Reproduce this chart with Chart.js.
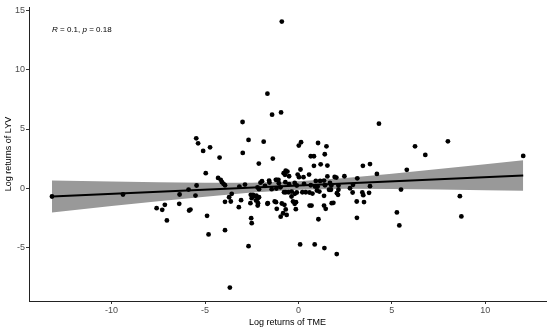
<!DOCTYPE html>
<html>
<head>
<meta charset="utf-8">
<script src="https://cdn.jsdelivr.net/npm/chart.js@4.4.1/dist/chart.umd.min.js"></script>
<style>
html,body{margin:0;padding:0;background:#fff;}
#c{display:block;}
</style>
</head>
<body>
<canvas id="c" width="550" height="331"></canvas>
<script>
// Scatter points: log returns of TME (x) vs LYV (y)
const tmeReturns = [
-13.19,-9.39,-7.59,-7.29,-7.15,-7.04,-6.36,-6.38,-5.88,-5.85,-5.78,-5.51,-5.45,-5.47,-5.37,-5.10,-4.73,-4.22,-4.96,-4.30,
-4.16,-4.09,-4.01,-3.93,-4.89,-4.81,-3.93,-3.67,-3.57,-3.71,-3.62,-3.93,-3.07,-3.19,-3.16,-2.86,-2.99,-2.98,-2.67,-2.55,
-2.50,-2.34,-2.27,-2.57,-2.16,-2.18,-2.53,-2.50,-2.67,-2.12,-2.03,-1.86,-1.66,-1.41,-0.93,-0.89,-1.37,0.02,0.14,1.05,
1.50,1.41,0.66,0.83,4.31,6.24,6.79,8.00,12.03,3.45,3.83,4.20,5.80,3.83,3.42,3.47,3.78,3.51,5.49,5.27,
5.40,8.64,8.72,-0.95,-0.63,0.09,0.87,1.39,2.05,1.07,3.13,0.83,1.19,1.55,0.11,-0.59,-0.72,-0.50,-0.04,0.03,
0.27,0.57,0.93,1.16,1.37,1.69,1.94,-1.55,-1.16,-1.05,-0.70,-0.50,-0.20,-0.09,0.30,0.66,0.89,1.03,1.42,1.64,
1.74,-2.19,-2.11,-1.79,-1.43,-1.18,-0.96,-0.77,-0.68,-0.53,-0.36,-0.20,-0.09,0.21,0.39,0.59,0.75,0.99,1.12,1.37,
-2.11,-2.25,-1.64,-1.27,-0.89,-0.75,-0.37,-0.29,-0.20,-0.13,0.60,0.70,1.37,1.78,-1.16,-0.68,-0.14,-0.82,1.46,2.03,
2.46,3.15,1.76,2.14,2.14,2.76,2.92,2.06,2.12,2.90,3.12,1.87,-1.95,-1.57,-1.21,-1.07,-0.79,-0.68,1.55,-1.66,
-1.20,-2.43,-2.19
];
const lyvReturns = [
-0.70,-0.53,-1.68,-1.82,-1.40,-2.72,-0.53,-1.32,-0.11,-1.88,-1.80,-0.62,0.23,4.21,3.79,3.15,3.45,2.59,1.27,0.87,
0.71,0.51,0.37,0.25,-2.33,-3.90,-3.54,-8.39,-0.47,-0.76,-1.12,-1.15,-1.01,-1.60,0.14,0.31,5.59,2.98,4.08,-0.56,
-0.84,-0.67,-1.04,-1.26,-1.26,-1.46,-2.53,-2.95,-4.89,2.08,0.47,3.93,7.98,6.21,6.40,14.07,2.50,3.60,3.88,3.82,
3.54,2.87,2.70,2.70,5.45,3.54,2.81,3.96,2.73,1.89,2.04,1.21,1.55,0.17,-0.36,-0.59,-0.39,-1.17,-0.11,-2.04,
-3.14,-0.67,-2.38,-2.40,-2.25,-4.74,-4.74,-5.05,-5.56,-2.62,-2.50,1.89,2.02,1.91,1.58,1.41,1.13,1.01,1.15,0.93,
0.93,1.15,0.62,0.62,0.65,0.45,0.95,0.48,0.71,0.42,0.51,0.34,0.45,0.23,0.37,0.25,0.14,0.14,0.25,-0.13,
-0.13,0.08,-0.08,0.20,-0.08,-0.03,0.08,-0.34,-0.34,-0.34,-0.28,-0.47,-0.36,-0.34,-0.34,-0.36,-0.45,-0.19,-0.28,-0.64,
-0.76,-0.62,-1.26,-1.12,-1.29,-1.40,-0.70,-1.12,-1.31,-1.18,-1.46,-1.46,-1.46,-1.26,-1.74,-1.79,-1.77,-2.11,-1.74,0.90,
1.01,0.84,0.23,0.23,-0.13,0.00,0.29,-0.42,-0.56,-0.36,-1.12,-1.23,0.60,0.65,0.71,0.71,1.27,1.49,1.00,-1.31,
-1.18,-0.56,-0.89
];
// Fitted regression line end points
const fitX = [-13.19, 12.03];
const fitY = [-0.69, 1.07];
// Confidence band
const bandX = [-13.19,-10,-7.5,-5,-2.5,0,2.5,5,7.5,10,12.03];
const bandUpper = [0.66,0.57,0.515,0.47,0.465,0.58,0.855,1.22,1.615,2.03,2.36];
const bandLower = [-2.04,-1.51,-1.105,-0.71,-0.355,-0.12,-0.045,-0.06,-0.105,-0.17,-0.22];
// Axis ticks
const xTicks = [-10,-5,0,5,10];
const yTicks = [-5,0,5,10,15];
const xTitle = 'Log returns of TME';
const yTitle = 'Log returns of LYV';
const statLabel = [['R', true], [' = 0.1, ', false], ['p', true], [' = 0.18', false]];

const FONT = "'Liberation Sans',Arial,sans-serif";

const pts = tmeReturns.map((x, i) => ({x: x, y: lyvReturns[i]}));
const fit = fitX.map((x, i) => ({x: x, y: fitY[i]}));
const up = bandX.map((x, i) => ({x: x, y: bandUpper[i]}));
const lo = bandX.map((x, i) => ({x: x, y: bandLower[i]}));

const statPlugin = {
  id: 'stat',
  afterDraw(chart) {
    const ctx = chart.ctx;
    ctx.save();
    ctx.fillStyle = '#000';
    ctx.textBaseline = 'alphabetic';
    let x = chart.chartArea.left + 23;
    const y = 31.5;
    statLabel.forEach(([t, it]) => {
      ctx.font = (it ? 'italic ' : '') + '8px ' + FONT;
      ctx.fillText(t, x, y);
      x += ctx.measureText(t).width;
    });
    ctx.restore();
  }
};

const axisCommon = {
  type: 'linear',
  grid: {drawOnChartArea: false, drawTicks: true, tickLength: 3, color: '#333', lineWidth: 1},
  border: {display: true, color: '#222', width: 1},
  ticks: {color: '#4d4d4d', font: {family: FONT, size: 9}, padding: 1}
};

new Chart(document.getElementById('c'), {
  type: 'scatter',
  data: {
    datasets: [
      {data: up, type: 'line', showLine: true, borderWidth: 0, pointRadius: 0, backgroundColor: '#999999', fill: '+1', order: 3},
      {data: lo, type: 'line', showLine: true, borderWidth: 0, pointRadius: 0, backgroundColor: '#999999', fill: false, order: 4},
      {data: pts, pointRadius: 2.4, pointBackgroundColor: '#000', pointBorderWidth: 0, order: 2},
      {data: fit, type: 'line', showLine: true, borderColor: '#000', borderWidth: 2, pointRadius: 0, fill: false, order: 1}
    ]
  },
  options: {
    responsive: false,
    animation: false,
    events: [],
    layout: {padding: {top: 7, right: 4, left: 0, bottom: 0}},
    plugins: {legend: {display: false}, tooltip: {enabled: false}, filler: {drawTime: 'beforeDatasetsDraw'}},
    scales: {
      x: Object.assign({}, axisCommon, {
        min: -14.42, max: 13.25,
        afterBuildTicks: s => { s.ticks = xTicks.map(v => ({value: v})); },
        afterFit: s => { s.height = 30; },
        title: {display: true, text: xTitle, color: '#000', font: {family: FONT, size: 9}, padding: {top: 0, bottom: 3}}
      }),
      y: Object.assign({}, axisCommon, {
        min: -9.52, max: 15.3,
        afterBuildTicks: s => { s.ticks = yTicks.map(v => ({value: v})); },
        afterFit: s => { s.width = 29; },
        title: {display: true, text: yTitle, color: '#000', font: {family: FONT, size: 9}, padding: {top: 3, bottom: 0}}
      })
    }
  },
  plugins: [statPlugin]
});
</script>
</body>
</html>
